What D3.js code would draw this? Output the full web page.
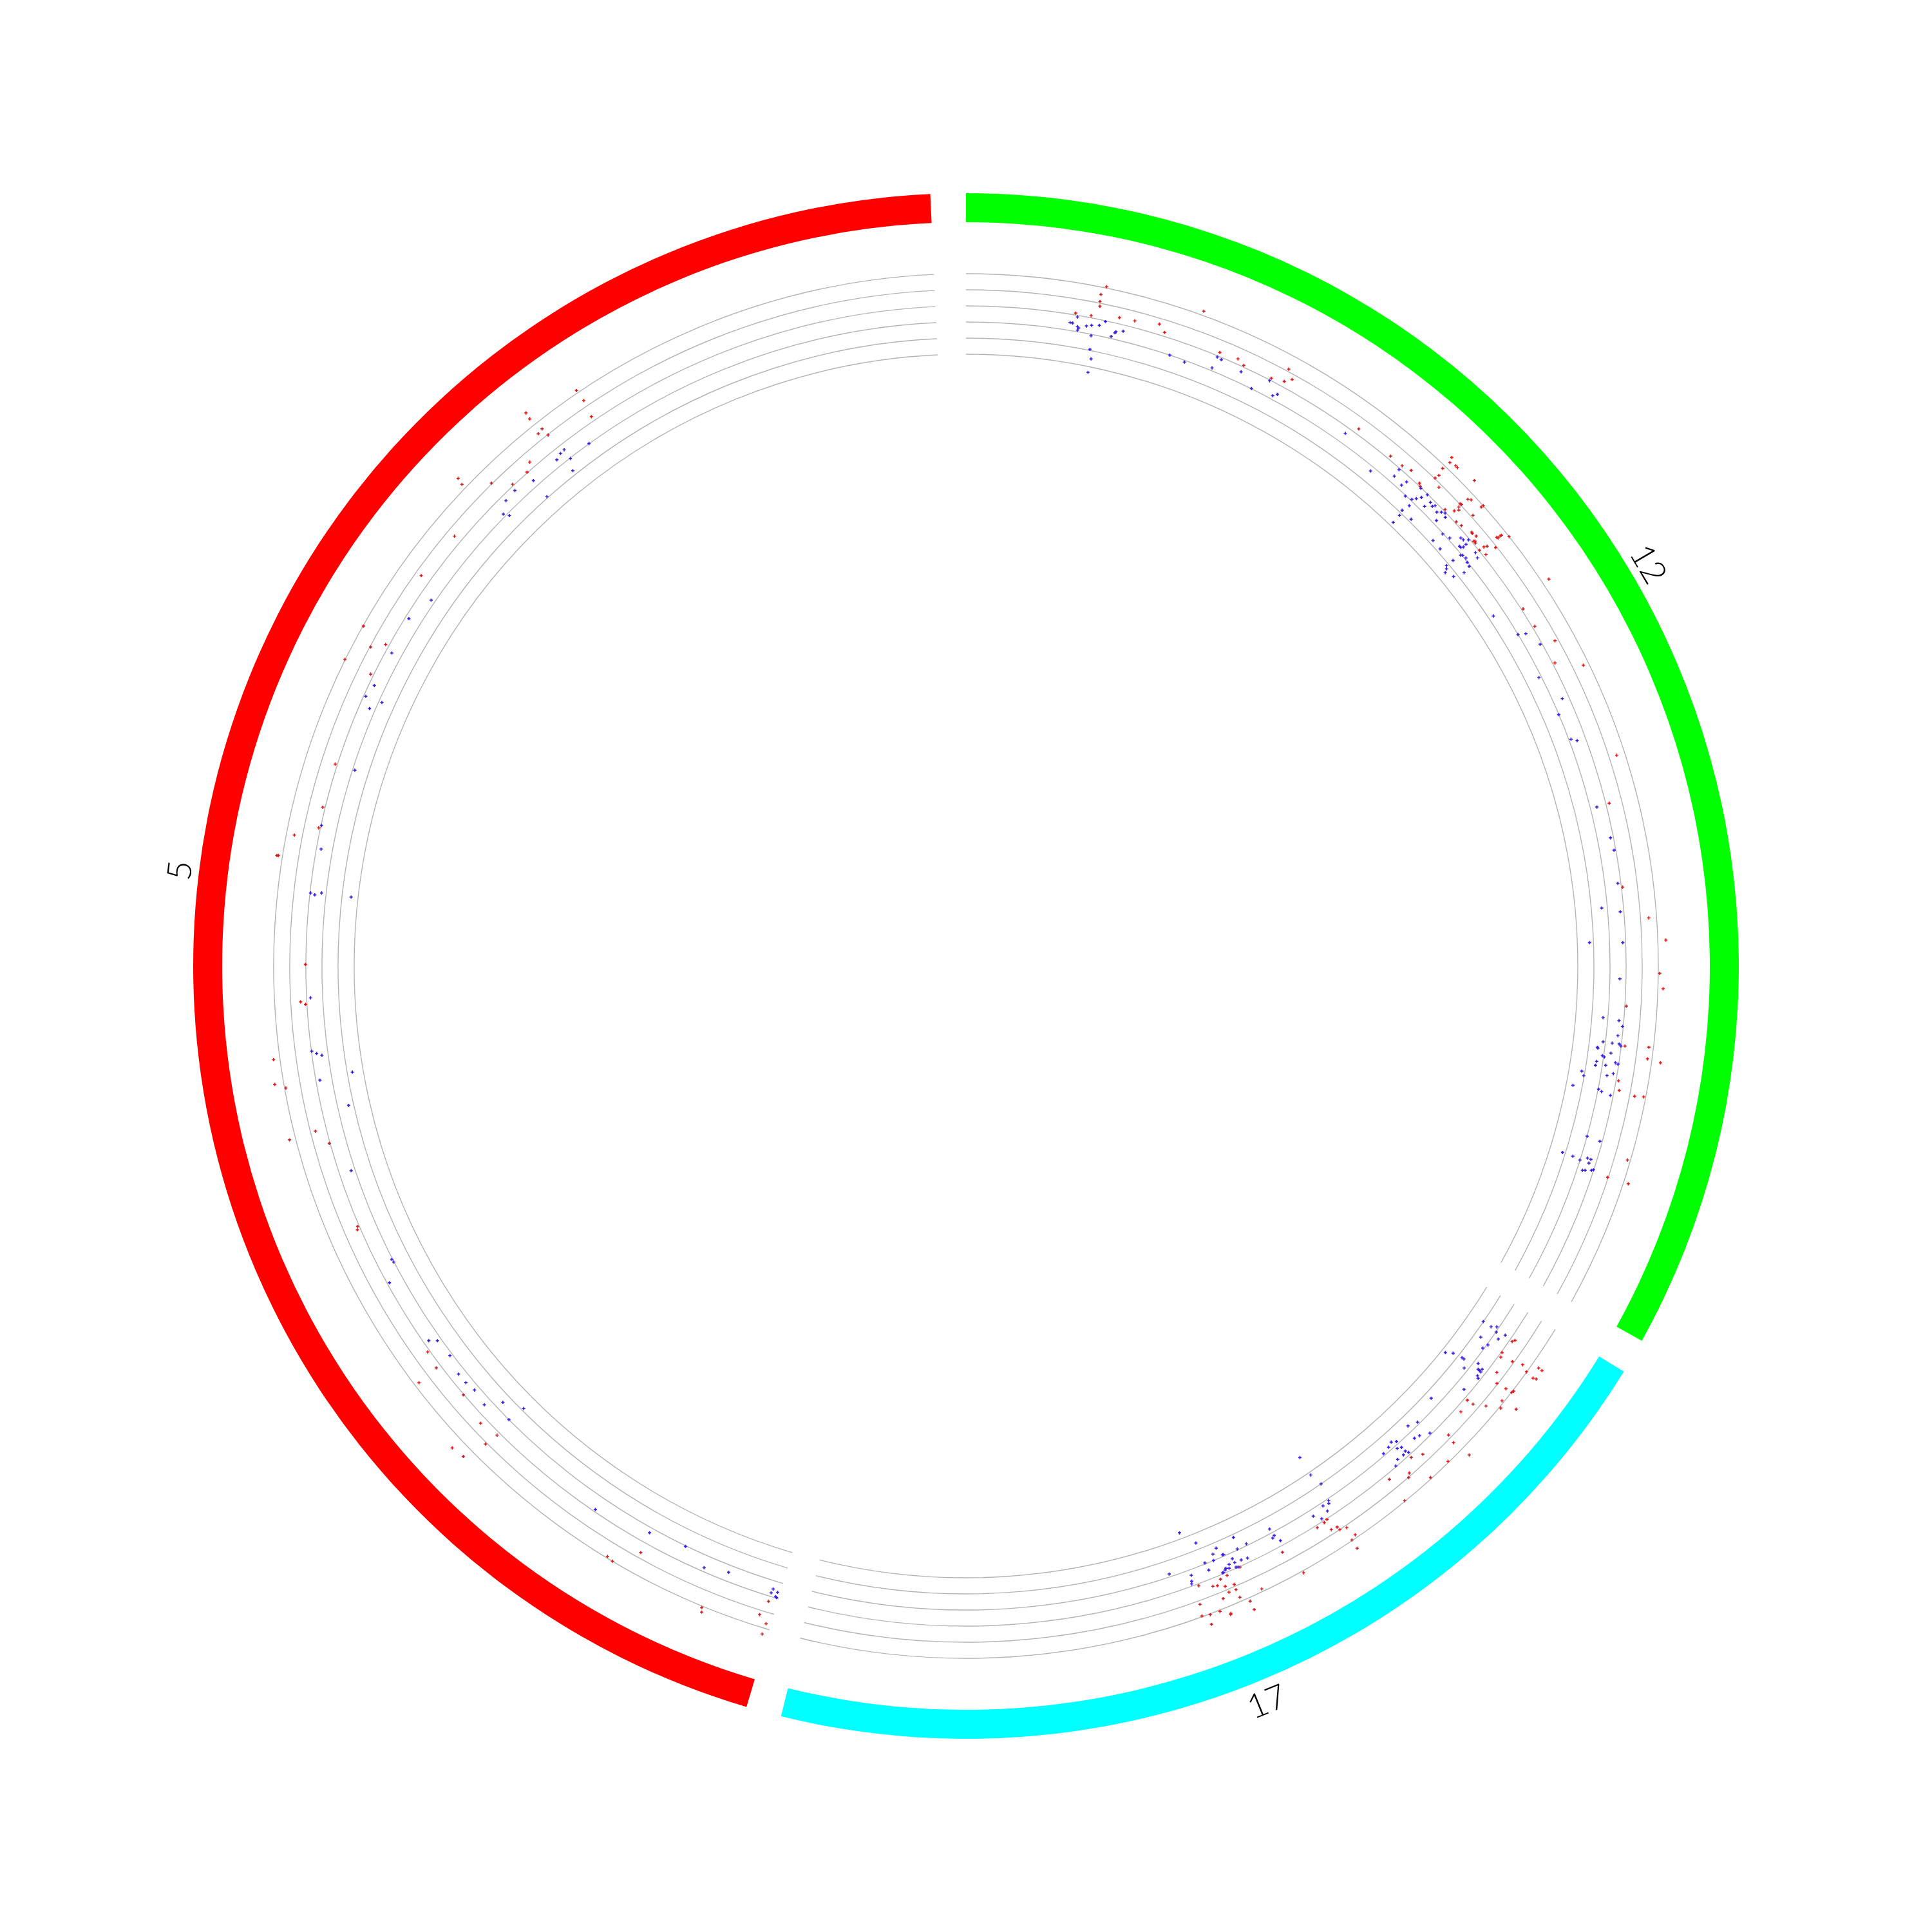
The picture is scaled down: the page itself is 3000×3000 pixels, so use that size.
<!DOCTYPE html>
<html>
<head>
<meta charset="utf-8">
<script src="https://cdn.jsdelivr.net/npm/d3@7.9.0/dist/d3.min.js"></script>
<style>
  body { margin: 0; background: #fff; }
  svg { display: block; }
  .label { font-family: Lato, 'Liberation Sans', Arial, sans-serif; font-weight: 300; font-size: 52px; fill: #000; }
</style>
</head>
<body>
<svg id="chart" width="3000" height="3000"></svg>
<script>
// ideogram: chromosomes in drawing order (clockwise from 12 o'clock), lengths in Mb
const chromNames = ['12', '17', '5'];
const chromLengthsMb = [133.851895, 81.19521, 180.91526];
const chromColors = ['#00ff00', '#00ffff', '#ff0000'];

// value axis of the scatter track, one grey circle per value
const gridValues = [-3, -2, -1, 0, 1, 2];

// scatter points: [position (Mb), value]
const chr12Points = [
  [13.15,2.08],[12.78,1.54],[12.82,1.10],[12.90,0.82],[10.72,0.12],[12.25,0.13],[14.98,0.38],[16.49,0.42],
  [18.86,0.64],[19.58,0.24],[22.45,2.27],[25.28,0.24],[27.14,0.32],[27.92,0.10],[31.95,1.14],[30.87,0.14],
  [32.13,0.34],[32.70,0.68],
  [10.97,-0.10],[10.34,-0.51],[10.59,-0.52],[11.13,-0.69],[11.27,-0.76],[11.19,-0.90],[11.99,-0.55],[12.48,-0.45],
  [13.23,-0.36],[13.73,-0.05],[12.62,-1.09],[12.78,-1.93],[13.09,-2.50],[13.06,-3.36],[14.60,-0.87],[14.89,-0.60],
  [14.96,-0.52],[15.64,-0.38],[20.75,-1.00],[22.37,-1.11],[25.15,-0.83],[25.22,-0.08],[25.68,-0.14],[27.94,-0.33],
  [29.59,-0.99],[30.84,-0.05],[31.80,-0.78],[32.14,-0.57],
  [39.88,-0.39],[40.69,0.33],
  [44.75,0.21],[46.21,0.22],[47.16,0.38],[48.60,0.14],[48.86,0.03],[49.34,1.04],[49.43,1.32],[49.23,1.80],
  [50.21,0.80],[49.34,2.37],[49.14,2.68],[49.93,2.48],[50.17,2.47],[52.10,2.66],[52.17,0.10],[52.88,0.46],
  [52.90,0.83],[53.12,0.70],[52.76,1.02],[52.90,1.06],[52.95,1.57],[53.20,1.69],[54.40,1.13],[54.33,1.86],
  [54.37,2.01],[53.79,0.09],[54.40,0.17],[55.53,0.39],[55.66,0.36],[56.10,0.44],[56.33,0.12],[56.40,0.18],
  [56.58,0.13],[57.36,0.04],[57.38,0.38],[57.53,0.56],[58.09,0.18],[58.14,0.92],[57.45,1.38],[57.56,1.42],
  [57.54,1.59],[57.57,1.68],[58.11,2.00],
  [44.16,-1.29],[46.23,-0.09],[46.30,-0.58],[47.43,-0.70],[47.59,-0.34],[49.04,-0.03],[48.45,-1.04],[49.14,-0.91],
  [49.42,-0.69],[49.70,-0.41],[49.93,-0.04],[49.40,-1.31],[49.20,-1.82],[49.37,-2.16],[50.50,-1.83],[49.40,-2.75],
  [50.54,-0.67],[50.68,-0.24],[51.08,-0.33],[51.22,-0.18],[51.79,-0.38],[52.11,-0.18],[52.42,-0.05],[52.74,-0.22],
  [52.37,-0.76],[53.79,-1.04],[54.55,-0.88],[53.61,-1.76],[54.73,-1.78],[55.27,-0.36],[55.57,-0.32],[55.90,-0.08],
  [56.08,-0.38],[55.81,-0.76],[55.99,-0.75],[56.11,-0.60],[57.31,-0.25],[57.82,-0.36],[56.57,-1.06],[56.70,-0.97],
  [57.11,-0.92],[57.54,-1.03],[57.97,-1.09],[56.48,-1.64],[56.46,-2.15],[56.72,-2.28],[56.94,-2.49],[57.80,-2.24],
  [58.15,-1.58],
  [63.46,2.45],[63.47,-1.69],[64.50,0.10],[66.54,0.15],[66.38,-1.01],[66.70,-0.56],[68.71,0.79],[68.31,-0.12],
  [70.60,0.14],[72.01,1.65],[71.18,-1.16],[74.06,-0.41],[75.38,-1.01],[78.12,-0.87],[78.45,-0.54],[81.04,1.48],
  [85.32,-0.59],[85.26,0.21],[88.57,-0.19],[89.83,-0.11],[93.52,0.08],[93.10,-0.19],[96.69,1.51],[95.37,-1.35],
  [95.90,-0.22],[98.93,-0.18],[98.84,2.50],[98.81,-2.24],[101.91,2.09],
  [103.33,2.32],[105.14,0.09],[109.02,0.23],[108.86,1.71],[109.95,1.72],[110.15,2.55],[112.45,0.16],[113.36,0.30],
  [113.63,1.31],[113.52,1.87],[119.61,1.82],[121.73,0.96],[121.70,2.30],
  [102.49,-0.38],[106.44,-1.30],[106.60,-0.30],[107.14,-0.05],[108.09,-0.28],[108.86,-1.15],[108.88,-0.58],[108.89,-0.14],
  [109.06,-0.02],[109.48,-1.46],[109.56,-1.42],[109.88,-0.58],[110.25,-1.08],[110.35,-0.95],[110.91,-1.38],[111.31,-1.42],
  [111.15,-0.79],[110.76,-0.22],[110.85,-0.05],[112.12,-2.20],[112.55,-2.03],[112.14,-0.61],[111.85,-0.24],[113.74,-2.58],
  [113.62,-0.97],[113.80,-0.76],[114.00,-0.18],[118.47,-1.00],[118.61,-0.15],[120.74,-2.18],[120.80,-1.50],[120.95,-1.01],
  [120.54,-0.59],[120.57,-0.37],[120.98,-0.42],[121.85,-0.66],[121.77,-0.51],[121.57,-0.13],[121.46,-0.02]
];

const chr17Points = [
  [3.22,0.17],[2.97,0.27],[4.66,0.05],[5.08,0.15],[4.78,0.90],[4.45,1.53],[3.84,2.46],[3.86,2.72],
  [4.78,1.98],[4.90,2.54],[4.79,2.73],[6.51,0.53],[7.33,0.95],[7.20,1.59],[7.14,2.02],[6.94,2.06],
  [8.32,1.87],[8.91,2.09],[8.10,2.88],[10.39,0.19],[10.31,0.62],[9.65,1.31],[11.65,0.37],[14.09,0.80],
  [14.28,1.35],[14.08,2.58],[15.89,1.93],[17.15,0.53],[18.19,0.19],[19.32,0.83],[19.65,1.02],[21.18,0.33],
  [18.11,1.92],[21.34,1.96],
  [3.21,-2.01],[3.19,-1.43],[2.87,-1.13],[3.33,-0.98],[3.08,-0.41],[4.65,-1.58],[3.79,-0.63],[4.86,-0.94],
  [5.42,-1.08],[8.13,-2.75],[7.68,-2.35],[7.47,-1.74],[7.45,-1.60],[6.93,-0.73],[8.15,-1.24],[7.38,-0.51],
  [7.14,-0.32],[7.40,-0.40],[7.42,-0.28],[7.92,-0.29],[8.08,-0.16],[9.80,-0.40],[12.64,-1.56],[15.33,-1.13],
  [16.29,-1.38],[15.23,-0.11],[16.14,-0.44],[16.67,-0.55],[18.21,-1.16],[18.64,-1.35],[19.18,-1.22],[18.62,-0.81],
  [18.22,-0.68],[18.19,-0.35],[18.04,-0.15],[18.58,-0.25],[19.99,-1.12],[19.30,-0.28],[19.86,-0.05],[27.17,-4.09],
  [28.38,0.04],[28.77,0.12],[29.61,0.15],[28.56,0.72],[27.96,0.78],[27.88,1.01],[27.23,1.15],[26.95,1.81],
  [27.47,1.96],[27.51,2.57],[33.72,0.38],[32.90,2.13],[38.06,0.03],[39.54,0.18],[40.26,0.24],[42.47,0.12],
  [41.21,0.47],[40.78,0.54],[40.12,0.76],[39.25,0.87],[39.29,1.21],[40.00,1.18],[40.74,1.42],[39.24,1.74],
  [37.05,1.83],[38.51,2.22],[38.49,2.80],[42.98,1.23],[41.46,2.08],[40.59,2.45],[40.65,2.50],[42.41,2.05],
  [43.18,1.95],[42.61,2.64],
  [27.25,-2.82],[26.89,-2.00],[27.21,-0.87],[27.35,-0.72],[27.97,-0.80],[27.88,-0.38],[29.33,-0.59],[28.77,-0.17],
  [33.75,-1.27],[33.66,-0.78],[33.90,-0.68],[33.35,-0.31],[37.41,-1.81],[36.51,-1.11],[37.55,-1.06],[37.01,-0.28],
  [37.66,-0.34],[38.34,-0.36],[38.41,-0.64],[42.41,-3.38],[41.19,-2.42],[39.47,-1.64],[40.00,-1.38],[40.19,-1.00],
  [39.15,-1.11],[39.02,-1.10],[41.09,-1.06],[41.00,-0.56],[42.80,-0.65],[42.96,-0.30],[43.05,-0.14],[44.84,-1.18],
  [39.37,-0.26],[39.50,-0.18],[39.08,-0.18],[38.93,-0.40],[39.85,-0.08],[39.74,-0.07],[38.41,-0.07],[38.23,-0.02]
];

const chr5Points = [
  [10.45,-0.96],[7.90,-0.24],[5.49,-0.56],[0.79,-0.49],[0.87,-0.23],[0.27,-0.38],[0.33,-0.08],[0.22,-0.04],
  [0.86,0.32],[1.29,1.28],[0.46,1.70],[0.53,2.38],[6.62,2.10],[6.47,2.36],
  [14.26,-0.68],[20.02,-0.14],[14.07,0.66],[16.61,1.90],[15.98,2.00],
  [43.43,-0.32],[42.93,-0.76],[41.00,-0.84],[39.03,-0.55],[37.91,-0.57],[36.80,-0.68],[35.06,-0.53],[33.98,-1.48],
  [32.30,-1.00],[32.04,-2.14],
  [42.59,0.14],[40.85,0.30],[40.72,1.71],[37.15,0.04],[32.04,0.20],[33.98,0.42],[34.12,2.75],[32.85,2.62],[32.22,1.10],
  [52.23,-0.95],[51.90,-0.98],[50.30,-0.14],[56.31,0.20],[56.60,0.10],[61.96,-0.75],[65.16,0.05],[66.65,0.69],
  [68.36,-1.69],[71.63,-2.32],[71.40,-0.25],[66.46,2.38],[74.00,2.40],[71.74,2.56],[71.23,1.92],[74.33,-0.02],
  [74.04,-0.30],[73.80,-0.61],[78.93,0.09],[79.20,0.39],
  [96.22,0.11],[95.08,1.50],[92.91,2.35],[92.94,2.26],[96.51,-0.03],[94.23,-0.29],[89.82,-0.04],[89.68,-0.31],
  [89.94,-0.72],[82.82,0.03],[79.54,-0.24],[89.86,-2.57],
  [98.27,0.15],[102.63,0.14],[102.64,-1.14],[109.88,-0.13],[108.92,-0.65],[111.20,-0.33],[112.04,0.18],[109.98,-1.20],
  [115.77,1.97],[114.37,0.95],[115.27,0.21],[112.22,2.02],[114.83,-0.38],[118.60,-0.22],[121.33,-0.75],[122.74,0.63],
  [127.71,0.50],[131.97,2.73],[131.81,2.30],[133.84,1.05],[133.65,-0.36],[132.52,-0.83],[132.85,-1.16],[134.98,-0.29],
  [135.23,0.09],[137.07,0.04],[137.91,0.40],[140.27,1.41],[140.84,1.50],[140.93,0.97],[140.59,2.90],[140.51,2.46],
  [140.76,-0.41],[141.27,-0.37],[141.23,-1.03],[140.09,-0.57],[136.98,-0.62],[136.92,-1.92],[140.66,-1.72],[143.62,-0.98],
  [145.59,1.39],[145.55,2.16],[145.33,0.30]
];

const pointsByChrom = { '12': chr12Points, '17': chr17Points, '5': chr5Points };

const width = 3000, height = 3000;
const gapDeg = 2.65;
const bandInner = 1155, bandOuter = 1200, labelRadius = 1232;

const svg = d3.select('#chart');
svg.append('rect').attr('width', width).attr('height', height).attr('fill', '#fff');
const g = svg.append('g').attr('transform', `translate(${width / 2},${height / 2})`);

const rad = (d) => d * Math.PI / 180;
const totalLen = d3.sum(chromLengthsMb);
const usableDeg = 360 - gapDeg * chromNames.length;

let startDeg = 0;
const chroms = chromNames.map((name, i) => {
  const span = usableDeg * chromLengthsMb[i] / totalLen;
  const c = {
    name: name,
    color: chromColors[i],
    angle: d3.scaleLinear().domain([0, chromLengthsMb[i]]).range([rad(startDeg), rad(startDeg + span)])
  };
  startDeg += span + gapDeg;
  return c;
});

const radius = d3.scaleLinear().domain([-3, 2]).range([950, 1075]);

function arcLine(r, a0, a1) {
  const p = d3.path();
  p.arc(0, 0, r, a0 - Math.PI / 2, a1 - Math.PI / 2);
  return p.toString();
}

// grey value circles, broken at the chromosome gaps
chroms.forEach((c) => {
  const [a0, a1] = c.angle.range();
  g.append('g').selectAll('path')
    .data(gridValues)
    .join('path')
    .attr('d', (v) => arcLine(radius(v), a0, a1))
    .attr('fill', 'none')
    .attr('stroke', '#b4b4b4')
    .attr('stroke-width', 1.4);
});

// scatter points
const symbol = d3.symbol().type(d3.symbolCross).size(14);
chroms.forEach((c) => {
  g.append('g').selectAll('path')
    .data(pointsByChrom[c.name])
    .join('path')
    .attr('d', symbol)
    .attr('transform', (d) => {
      const [x, y] = d3.pointRadial(c.angle(d[0]), radius(d[1]));
      return `translate(${x},${y})`;
    })
    .attr('fill', (d) => d[1] > 0 ? '#df1a1a' : '#3a1ee4');
});

// ideogram bands
const bandArc = d3.arc().innerRadius(bandInner).outerRadius(bandOuter);
g.append('g').selectAll('path')
  .data(chroms)
  .join('path')
  .attr('d', (c) => bandArc({ startAngle: c.angle.range()[0], endAngle: c.angle.range()[1] }))
  .attr('fill', (c) => c.color);

// chromosome labels
g.append('g').selectAll('text')
  .data(chroms)
  .join('text')
  .attr('class', 'label')
  .attr('text-anchor', 'middle')
  .attr('dominant-baseline', 'central')
  .attr('transform', (c) => {
    const mid = d3.mean(c.angle.range());
    const [x, y] = d3.pointRadial(mid, labelRadius);
    let deg = mid * 180 / Math.PI;
    if (deg > 90 && deg < 270) deg += 180;
    return `translate(${x},${y}) rotate(${deg})`;
  })
  .text((c) => c.name);
</script>
</body>
</html>
